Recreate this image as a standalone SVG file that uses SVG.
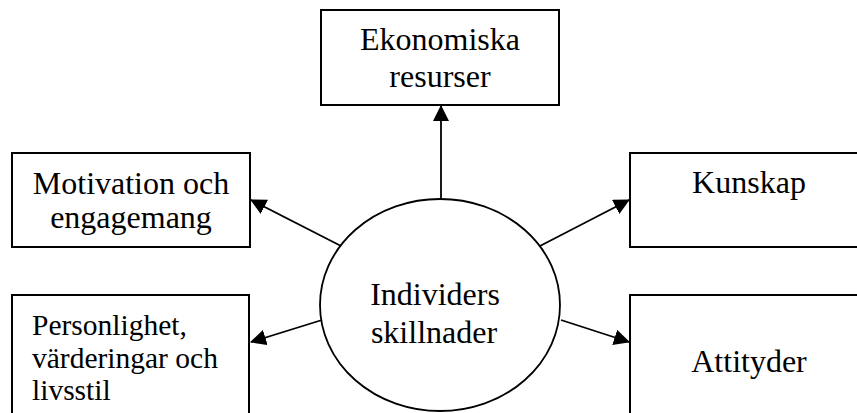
<svg xmlns="http://www.w3.org/2000/svg" width="857" height="413" viewBox="0 0 857 413">
<style>
.box{fill:#fff;stroke:#000;stroke-width:2}
.ell{fill:#fff;stroke:#000;stroke-width:1.8}
.t{font-family:"Liberation Serif","Times New Roman",serif;font-size:32px;fill:#000;text-anchor:middle}
.ts{font-family:"Liberation Serif","Times New Roman",serif;font-size:29.5px;fill:#000}
.c{stroke:#000;stroke-width:1.8;fill:none;marker-end:url(#ah)}
</style>
<defs>
<marker id="ah" markerUnits="userSpaceOnUse" markerWidth="16" markerHeight="16" viewBox="0 0 16 16" refX="15" refY="8" orient="auto">
<path d="M0,0 L16,8 L0,16 Z" fill="#000"/>
</marker>
</defs>
<rect width="857" height="413" fill="#fff"/>
<g id="connectors">
<line class="c" x1="441" y1="199" x2="441" y2="106"/>
<line class="c" x1="343" y1="247" x2="251" y2="200"/>
<line class="c" x1="538" y1="247" x2="629" y2="200"/>
<line class="c" x1="322" y1="320" x2="251" y2="342"/>
<line class="c" x1="561" y1="320" x2="629" y2="342"/>
</g>
<g id="ekonomiska">
<rect class="box" x="321" y="10" width="238" height="95"/>
<text class="t" x="440" y="50">Ekonomiska</text>
<text class="t" x="440" y="87">resurser</text>
</g>
<g id="motivation">
<rect class="box" x="12" y="153" width="238" height="94"/>
<text class="t" x="131" y="194">Motivation och</text>
<text class="t" x="131" y="228">engagemang</text>
</g>
<g id="kunskap">
<rect class="box" x="630" y="153" width="240" height="94"/>
<text class="t" x="749" y="193">Kunskap</text>
</g>
<g id="personlighet">
<rect class="box" x="12" y="295" width="237" height="130"/>
<text class="ts" x="32" y="335">Personlighet,</text>
<text class="ts" x="32" y="368">värderingar och</text>
<text class="ts" x="32" y="400">livsstil</text>
</g>
<g id="attityder">
<rect class="box" x="630" y="295" width="240" height="130"/>
<text class="t" x="749" y="372">Attityder</text>
</g>
<g id="individers">
<ellipse class="ell" cx="440" cy="305" rx="120" ry="106"/>
<text class="t" x="435" y="305">Individers</text>
<text class="t" x="434" y="343">skillnader</text>
</g>
</svg>
